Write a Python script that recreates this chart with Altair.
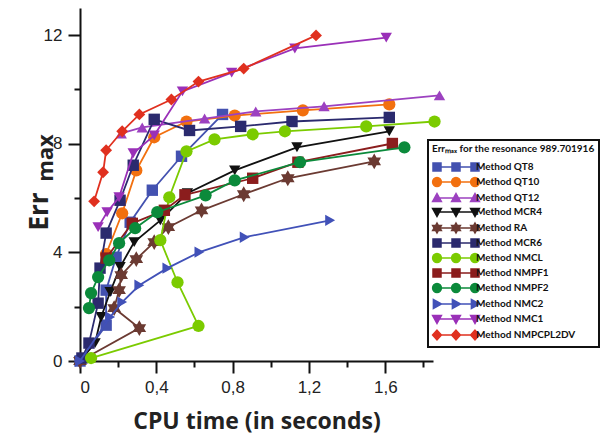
import altair as alt
import pandas as pd

# ---------------- data ----------------
methods = ["Method QT8", "Method QT10", "Method QT12", "Method MCR4", "Method RA",
           "Method MCR6", "Method NMCL", "Method NMPF1", "Method NMPF2", "Method NMC2",
           "Method NMC1", "Method NMPCPL2DV"]

qt8_x = [0.0, 0.137, 0.137, 0.189, 0.263, 0.379, 0.532, 0.747]
qt8_y = [0.0, 1.32, 2.61, 3.82, 5.11, 6.29, 7.54, 9.08]

qt10_x = [0.137, 0.221, 0.295, 0.389, 0.558, 0.811, 1.168, 1.621]
qt10_y = [3.94, 5.44, 7.02, 8.24, 8.82, 9.04, 9.23, 9.45]

qt12_x = [0.216, 0.326, 0.653, 0.921, 1.279, 1.884]
qt12_y = [8.38, 8.60, 8.93, 9.19, 9.38, 9.78]

mcr4_x = [0.0, 0.079, 0.111, 0.158, 0.210, 0.284, 0.421, 0.563, 0.811, 1.137, 1.621]
mcr4_y = [0.0, 0.66, 1.62, 2.54, 3.46, 4.38, 5.18, 6.18, 7.02, 7.87, 8.46]

ra_x = [0.0, 0.311, 0.179, 0.205, 0.216, 0.295, 0.389, 0.463, 0.637, 0.858, 1.089, 1.542]
ra_y = [0.0, 1.21, 1.95, 2.61, 3.16, 3.75, 4.38, 4.93, 5.55, 6.14, 6.73, 7.35]

mcr6_x = [0.01, 0.047, 0.095, 0.105, 0.137, 0.21, 0.279, 0.389, 0.574, 0.842, 1.111, 1.621]
mcr6_y = [0.11, 0.66, 2.13, 3.42, 4.71, 5.92, 7.21, 8.90, 8.49, 8.64, 8.82, 8.97]

nmcl_x = [0.058, 0.621, 0.511, 0.421, 0.468, 0.558, 0.705, 0.905, 1.074, 1.500, 1.858]
nmcl_y = [0.11, 1.29, 2.90, 4.45, 6.03, 7.72, 8.16, 8.35, 8.46, 8.64, 8.82]

nmpf1_x = [0.137, 0.274, 0.442, 0.550, 0.905, 1.142, 1.637]
nmpf1_y = [3.79, 5.07, 5.55, 6.12, 6.73, 7.32, 8.01]

nmpf2_x = [0.047, 0.058, 0.095, 0.153, 0.205, 0.289, 0.405, 0.658, 0.811, 1.153, 1.700]
nmpf2_y = [1.95, 2.50, 3.09, 3.71, 4.34, 4.89, 5.48, 6.10, 6.65, 7.32, 7.87]

nmc2_x = [0.0, 0.158, 0.221, 0.311, 0.458, 0.626, 0.863, 1.311]
nmc2_y = [0.0, 1.62, 2.17, 2.79, 3.42, 4.01, 4.56, 5.18]

nmc1_x = [0.095, 0.142, 0.205, 0.279, 0.389, 0.537, 0.795, 1.126, 1.605]
nmc1_y = [4.93, 5.48, 6.03, 7.65, 8.31, 9.93, 10.62, 11.51, 11.91]

nmpcpl_x = [0.074, 0.121, 0.137, 0.221, 0.311, 0.479, 0.621, 0.858, 1.237]
nmpcpl_y = [5.88, 6.95, 7.76, 8.46, 9.08, 9.63, 10.29, 10.77, 11.99]

x_ticks = [0.0, 0.2, 0.4, 0.6, 0.8, 1.0, 1.2, 1.4, 1.6, 1.8]
y_ticks = [0, 2, 4, 6, 8, 10, 12]

y_title_main = "Err"
y_title_sub = ["max"]
legend_title = "Errₘₐₓ for the resonance 989.701916"

series_x = [qt8_x, qt10_x, qt12_x, mcr4_x, ra_x, mcr6_x, nmcl_x, nmpf1_x, nmpf2_x, nmc2_x, nmc1_x, nmpcpl_x]
series_y = [qt8_y, qt10_y, qt12_y, mcr4_y, ra_y, mcr6_y, nmcl_y, nmpf1_y, nmpf2_y, nmc2_y, nmc1_y, nmpcpl_y]

# ---------------- style ----------------
colors = ["#4351B0", "#F2700F", "#9C41C0", "#111111", "#6B3A32", "#2B2A6E",
          "#7BCB00", "#8B1D1D", "#0B8A3B", "#4151B8", "#9A30B8", "#E0301F"]

STAR = "M0,-1.25L0.36,-0.62L1.08,-0.62L0.72,0L1.08,0.62L0.36,0.62L0,1.25L-0.36,0.62L-1.08,0.62L-0.72,0L-1.08,-0.62L-0.36,-0.62Z"
shapes = ["square", "circle", "triangle-up", "triangle-down", STAR, "square",
          "circle", "square", "circle", "triangle-right", "triangle-down", "diamond"]
sizes = [130, 150, 130, 130, 160, 130, 150, 130, 150, 130, 130, 140]


def marker_path(kind, cx):
    if kind == "square":
        return f"M{cx-1},-1h2v2h-2z"
    if kind == "circle":
        return f"M{cx-1.1},0a1.1,1.1 0 1,0 2.2,0a1.1,1.1 0 1,0 -2.2,0z"
    if kind == "triangle-up":
        return f"M{cx},-1.1L{cx+1.1},0.9L{cx-1.1},0.9z"
    if kind == "triangle-down":
        return f"M{cx},1.1L{cx+1.1},-0.9L{cx-1.1},-0.9z"
    if kind == "triangle-right":
        return f"M{cx+1.1},0L{cx-0.9},-1.1L{cx-0.9},1.1z"
    if kind == "diamond":
        return f"M{cx},-1.2L{cx+1.1},0L{cx},1.2L{cx-1.1},0z"
    pts = [(0, -1.25), (0.36, -0.62), (1.08, -0.62), (0.72, 0), (1.08, 0.62), (0.36, 0.62),
           (0, 1.25), (-0.36, 0.62), (-1.08, 0.62), (-0.72, 0), (-1.08, -0.62), (-0.36, -0.62)]
    return "M" + "L".join(f"{cx+a:.2f},{b:.2f}" for a, b in pts) + "z"


def legend_path(kind):
    centers = [0, 4.75, 9.5]
    return "M0,0H9.5" + "".join(marker_path(kind, c) for c in centers)


legend_shapes = [legend_path(s if s != STAR else "star") for s in shapes]

FONT_T = "Open Sans"
FONT_L = "Liberation Sans"

x_axis = alt.Axis(
    values=x_ticks, title="CPU time (in seconds)",
    labelExpr="(round(datum.value*10) % 4 == 0) ? (datum.value == 0 ? '0' : replace(format(datum.value, '.1f'), '.', ',')) : ''",
    tickSize={"condition": {"test": "round(datum.value*10) % 4 == 0", "value": 12}, "value": 6},
    tickWidth=2, tickColor="#111111", domainWidth=2, domainColor="#111111",
    labelFont=FONT_L, labelFontSize=17, labelColor="#222222", labelPadding=6,
    grid=False, titleFont=FONT_T, titleFontSize=23, titleFontWeight="bold",
    titleColor="#222222", titleY=67, titleBaseline="alphabetic",
)
y_axis = alt.Axis(
    values=y_ticks, title=y_title_main,
    labelExpr="(datum.value % 4 == 0) ? datum.value : ''",
    tickSize={"condition": {"test": "datum.value % 4 == 0", "value": 12}, "value": 6},
    tickWidth=2, tickColor="#111111", domainWidth=2, domainColor="#111111",
    labelFont=FONT_L, labelFontSize=17, labelColor="#222222", labelPadding=6,
    grid=False, titleFont=FONT_T, titleFontSize=26, titleFontWeight="bold",
    titleColor="#222222", titleAngle=270, titleX=-33, titleY=203,
    titleBaseline="alphabetic", titleAlign="center",
)

xs = alt.Scale(domain=[0, 1.85], nice=False, zero=False)
ys = alt.Scale(domain=[0, 13], nice=False, zero=False)

layers = []
frames = []
for k, name in enumerate(methods):
    df = pd.DataFrame({"t": series_x[k], "err": series_y[k],
                       "i": list(range(len(series_x[k]))), "method": name})
    frames.append(df)
    base = alt.Chart(df).encode(
        x=alt.X("t:Q", scale=xs, axis=x_axis),
        y=alt.Y("err:Q", scale=ys, axis=y_axis),
        order=alt.Order("i:Q"),
    )
    layers.append(base.mark_line(color=colors[k], strokeWidth=1.8))
    layers.append(base.mark_point(filled=True, color=colors[k], shape=shapes[k],
                                  size=sizes[k], opacity=1, strokeWidth=0))

all_df = pd.concat(frames, ignore_index=True)
leg = alt.Legend(
    title=legend_title, orient="none", legendX=348, legendY=132,
    direction="vertical", fillColor="white", strokeColor="#111111",
    padding=4, titleFont="Lato", titleFontSize=10, titleFontWeight="bold", titleColor="#111111",
    titleLimit=500, titlePadding=8, labelFont="Lato", labelFontSize=10, labelFontWeight="bold",
    labelColor="#111111", labelOffset=34, labelLimit=300, symbolSize=64, symbolStrokeWidth=1.5,
    symbolOpacity=1, rowPadding=0,
)
legend_layer = alt.Chart(all_df).transform_filter("datum.err < -100").mark_point(opacity=1).encode(
    x=alt.X("t:Q", scale=xs, axis=x_axis),
    y=alt.Y("err:Q", scale=ys, axis=y_axis),
    fill=alt.Fill("method:N", scale=alt.Scale(domain=methods, range=colors), legend=leg),
    stroke=alt.Stroke("method:N", scale=alt.Scale(domain=methods, range=colors), legend=leg),
    shape=alt.Shape("method:N", scale=alt.Scale(domain=methods, range=legend_shapes), legend=leg),
)

sub_title = alt.Chart(pd.DataFrame({"label": y_title_sub})).mark_text(
    font=FONT_T, fontSize=22, fontWeight="bold", color="#222222", angle=270,
    align="center", baseline="alphabetic",
).encode(text="label:N", x=alt.value(-27), y=alt.value(150))

chart = alt.layer(*layers, legend_layer, sub_title).properties(
    width=353, height=353,
    autosize=alt.AutoSizeParams(type="none"),
    padding={"left": 72, "top": 0, "right": 167, "bottom": 76},
    background="white",
).configure_view(strokeWidth=0).configure_legend(strokeWidth=2)

chart.save("out.html", embed_options={"renderer": "svg", "actions": False})
